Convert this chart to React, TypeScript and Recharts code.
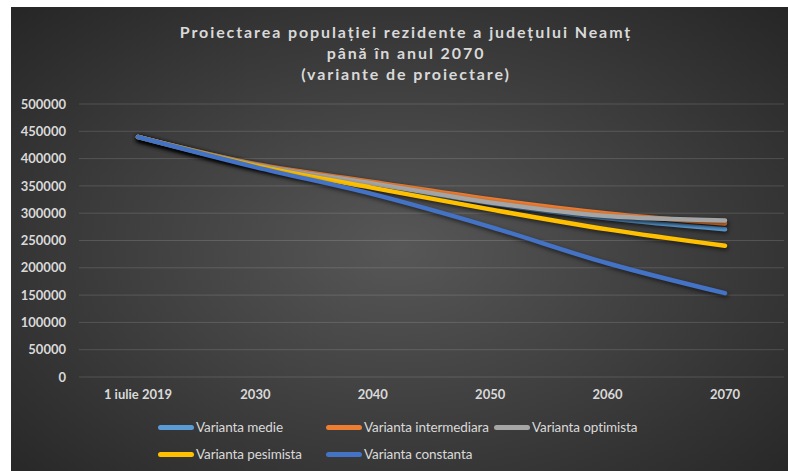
import { LineChart, Line, XAxis, YAxis, CartesianGrid } from "recharts";

const years = ["1 iulie 2019", "2030", "2040", "2050", "2060", "2070"];
const medie = [439600, 388000, 352000, 318000, 290500, 270400];
const intermediara = [439600, 390000, 357400, 325800, 299600, 281300];
const optimista = [439600, 389000, 354400, 319700, 294700, 286800];
const pesimista = [439600, 387000, 346400, 307000, 270400, 240400];
const constanta = [439600, 384500, 334900, 275100, 208300, 153500];
const yTicks = [0, 50000, 100000, 150000, 200000, 250000, 300000, 350000, 400000, 450000, 500000];

const series = [
  { key: "medie", name: "Varianta medie", color: "#5B9BD5", values: medie },
  { key: "intermediara", name: "Varianta intermediara", color: "#ED7D31", values: intermediara },
  { key: "optimista", name: "Varianta optimista", color: "#A5A5A5", values: optimista },
  { key: "pesimista", name: "Varianta pesimista", color: "#FFC000", values: pesimista },
  { key: "constanta", name: "Varianta constanta", color: "#4472C4", values: constanta },
];

const data = years.map((year, i) => {
  const row: Record<string, string | number> = { year };
  series.forEach((s) => {
    row[s.key] = s.values[i];
  });
  return row;
});

const textColor = "#d9d9d9";
const font = "Lato, 'Open Sans', sans-serif";

export default function App() {
  return (
    <div
      style={{
        position: "absolute",
        left: 11,
        top: 7,
        width: 777,
        height: 464,
        overflow: "hidden",
        background: "radial-gradient(ellipse farthest-corner at 50% 52%, #575757 0%, #3c3c3c 55%, #262626 100%)",
        fontFamily: font,
      }}
    >
      <div
        style={{
          position: "absolute",
          left: 0,
          top: 14,
          width: 790,
          textAlign: "center",
          color: textColor,
          fontWeight: 700,
          fontSize: 16,
          lineHeight: "21px",
          letterSpacing: 1.9,
        }}
      >
        <div>Proiectarea populației rezidente a județului Neamț</div>
        <div>până în anul 2070</div>
        <div>(variante de proiectare)</div>
      </div>

      <LineChart
        width={777}
        height={464}
        data={data}
        margin={{ top: 97, right: 4, bottom: 64, left: 0 }}
        style={{ position: "absolute", left: 0, top: 0 }}
      >
        <CartesianGrid vertical={false} stroke="rgba(255,255,255,0.14)" strokeWidth={1} />
        <XAxis
          dataKey="year"
          axisLine={false}
          tickLine={false}
          tickMargin={7}
          height={30}
          padding={{ left: 59, right: 59 }}
          tick={{ fill: textColor, fontSize: 13, fontWeight: 700, fontFamily: font }}
        />
        <YAxis
          width={68}
          domain={[0, 500000]}
          ticks={yTicks}
          axisLine={false}
          tickLine={false}
          tickMargin={7}
          tick={{ fill: textColor, fontSize: 13, fontWeight: 700, fontFamily: font }}
        />
        {series.map((s) => (
          <Line
            key={s.key}
            dataKey={s.key}
            name={s.name}
            type="monotone"
            stroke={s.color}
            strokeWidth={4.5}
            strokeLinecap="round"
            dot={false}
            isAnimationActive={false}
            style={{ filter: "drop-shadow(1px 2px 2px rgba(0,0,0,0.6))" }}
          />
        ))}
      </LineChart>

      {series.map((s, i) => (
        <div
          key={s.key}
          style={{
            position: "absolute",
            left: 147 + (i % 3) * 168,
            top: 411 + Math.floor(i / 3) * 27,
            height: 18,
            display: "flex",
            alignItems: "center",
            color: textColor,
            fontSize: 13.5,
            letterSpacing: -0.1,
            whiteSpace: "nowrap",
          }}
        >
          <span
            style={{
              display: "inline-block",
              width: 36,
              height: 5,
              borderRadius: 2.5,
              background: s.color,
              marginRight: 2,
            }}
          />
          {s.name}
        </div>
      ))}
    </div>
  );
}
